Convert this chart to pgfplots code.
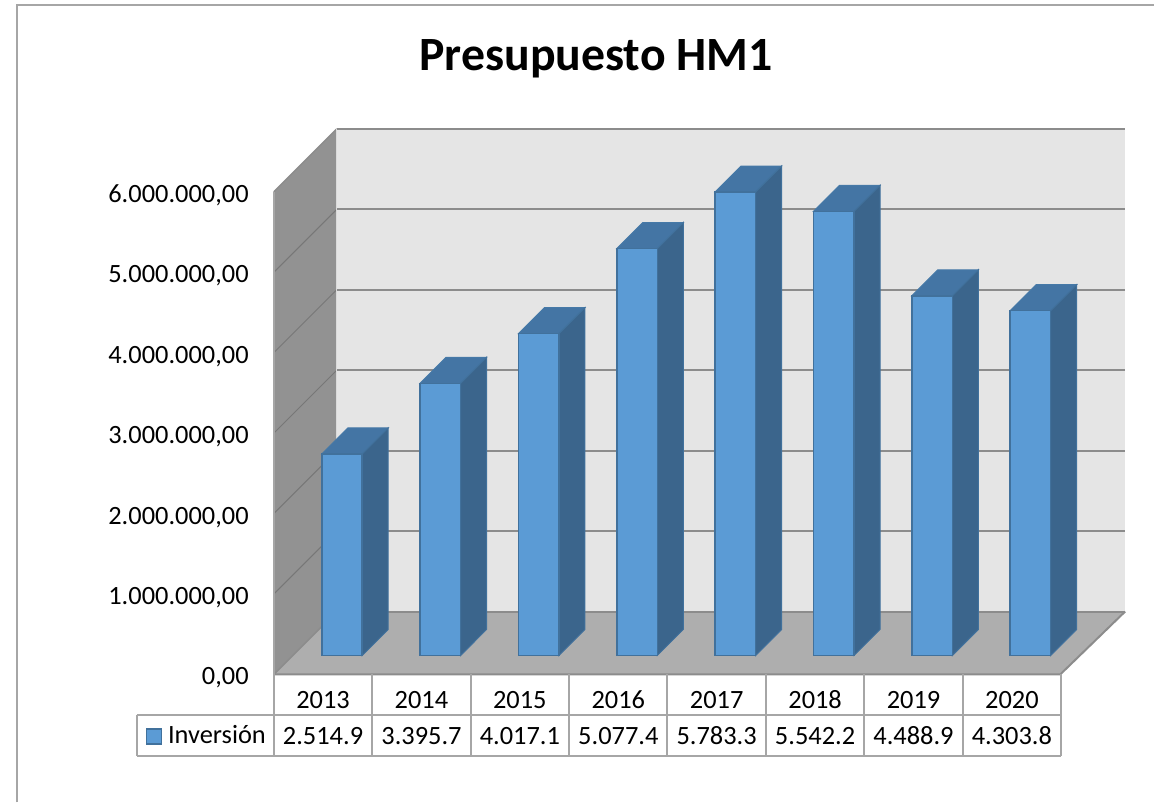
\documentclass[border=0pt]{standalone}
\usepackage{fontspec}
\setmainfont{Carlito}
\usepackage{pgfplots}
\pgfplotsset{compat=1.18}
\definecolor{front}{HTML}{5B9BD5}
\definecolor{topf}{HTML}{4475A4}
\definecolor{sidef}{HTML}{3B658C}
\definecolor{edgeb}{HTML}{41719C}
\definecolor{wallb}{HTML}{E5E5E5}
\definecolor{walll}{HTML}{929292}
\definecolor{floorc}{HTML}{AEAEAE}
\definecolor{gridc}{HTML}{8C8C8C}
\definecolor{tabc}{HTML}{A6A6A6}
\newcommand{\fsz}{\fontsize{26.4}{30}\selectfont}
\tikzset{cell/.style={font=\fsz, inner sep=0pt, text height=17pt, text depth=0pt}}
\begin{document}
\begin{tikzpicture}[x=1pt,y=1pt]
% ---- layout layer, in picture pixels
\begin{axis}[
  at={(0pt,0pt)}, anchor=south west, scale only axis, width=1155pt, height=803pt,
  xmin=0, xmax=1155, ymin=0, ymax=803, y dir=reverse, hide axis, clip=false]
\addplot[draw=none, fill=white] coordinates {(0,0)(1155,0)(1155,803)(0,803)} -- cycle;
\addplot[tabc, line width=1.8pt] coordinates {(17,803)(17,5)(1155,5)};
\addplot[draw=none, fill=wallb] coordinates {(337,129)(1126,129)(1126,612)(337,612)} -- cycle;
\addplot[draw=none, fill=walll] coordinates {(274,192)(337,129)(337,612)(274,675)} -- cycle;
\addplot[draw=none, fill=floorc] coordinates {(274,675)(337,612)(1126,612)(1061,675)} -- cycle;
% grid on the back wall
\foreach \g in {129,209.5,290,370.5,451,531.5,612}{
  \edef\temp{\noexpand\addplot[gridc, line width=2pt, forget plot] coordinates {(337,\g)(1126,\g)};}
  \temp
}
% grid on the side wall
\addplot[color=gridc!85!black, line width=1pt] coordinates {(337,209.5)(274,272.5)};
\addplot[color=gridc!85!black, line width=1pt] coordinates {(337,290)(274,353)};
\addplot[color=gridc!85!black, line width=1pt] coordinates {(337,370.5)(274,433.5)};
\addplot[color=gridc!85!black, line width=1pt] coordinates {(337,451)(274,514)};
\addplot[color=gridc!85!black, line width=1pt] coordinates {(337,531.5)(274,594.5)};
\addplot[gridc, line width=1.5pt] coordinates {(337,612)(274,675)};
\addplot[gridc, line width=1.5pt] coordinates {(274,192)(337,129)};
\addplot[gridc, line width=2pt] coordinates {(274,675)(1061,675)(1126,612)};
\addplot[tabc, line width=1.5pt] coordinates {(274,192)(274,675)};
\addplot[draw=wallb!95!black, line width=1.5pt] coordinates {(337,129)(337,612)};
% data table
\addplot[tabc, line width=2pt] coordinates {(137,716)(1062,716)};
\addplot[tabc, line width=2pt] coordinates {(137,757)(1062,757)};
\addplot[tabc, line width=2pt] coordinates {(137,716)(137,757)};
\foreach \v in {274,372.6,471.1,569.6,668,766.5,865,963.5,1062}{
  \edef\temp{\noexpand\addplot[tabc, line width=2pt, forget plot] coordinates {(\v,675)(\v,757)};}
  \temp
}
\addplot[only marks, mark=square*, mark size=7.5pt, mark options={fill=front, draw=edgeb, line width=1.2pt}] coordinates {(154,737)};
\node[cell, anchor=west] at (axis cs:168,736) {Inversión};
\node[cell] at (axis cs:323.3,736.5) {2.514.9};
\node[cell] at (axis cs:421.8,736.5) {3.395.7};
\node[cell] at (axis cs:520.3,736.5) {4.017.1};
\node[cell] at (axis cs:618.8,736.5) {5.077.4};
\node[cell] at (axis cs:717.2,736.5) {5.783.3};
\node[cell] at (axis cs:815.7,736.5) {5.542.2};
\node[cell] at (axis cs:914.2,736.5) {4.488.9};
\node[cell] at (axis cs:1012.7,736.5) {4.303.8};
\node[font=\fontsize{47.8}{54}\selectfont\bfseries, inner sep=0pt] at (axis cs:596.5,59) {Presupuesto HM1};
\end{axis}
% ---- value and category axis
\begin{axis}[
  at={(274pt,128pt)}, anchor=south west, scale only axis, width=788pt, height=483pt,
  xmin=-0.5, xmax=7.5, ymin=0, ymax=6000000,
  xtick={0,...,7}, xticklabels={2013,2014,2015,2016,2017,2018,2019,2020},
  ytick={0,1000000,2000000,3000000,4000000,5000000,6000000},
  scaled y ticks=false,
  axis line style={draw=none}, major tick length=0pt, tick style={draw=none},
  tick label style={cell},
  yticklabel style={anchor=east, xshift=-25pt, yshift=-2pt,
    /pgf/number format/.cd, fixed, fixed zerofill, precision=2,
    1000 sep={.}, dec sep={,}, assume math mode=true},
  xticklabel style={anchor=center, yshift=-25.7pt},
  ]
\addplot[draw=none] coordinates {(0,0)(7,6000000)};
\end{axis}
% ---- bars: x in picture pixels, y in thousands
\begin{axis}[
  at={(0pt,147pt)}, anchor=south west, scale only axis, width=1155pt, height=481.2pt,
  xmin=0, xmax=1155, ymin=0, ymax=6000, hide axis, clip=false]
% tops
\addplot[fill=topf, draw=edgeb!80!front, line width=1pt] coordinates {(322,2514.9)(348,2839.1)(388.5,2839.1)(362.5,2514.9)} -- cycle;
\addplot[fill=topf, draw=edgeb!80!front, line width=1pt] coordinates {(420.4,3395.7)(446.4,3719.9)(486.9,3719.9)(460.9,3395.7)} -- cycle;
\addplot[fill=topf, draw=edgeb!80!front, line width=1pt] coordinates {(518.9,4017.1)(544.9,4341.3)(585.4,4341.3)(559.4,4017.1)} -- cycle;
\addplot[fill=topf, draw=edgeb!80!front, line width=1pt] coordinates {(617.3,5077.4)(643.3,5401.6)(683.8,5401.6)(657.8,5077.4)} -- cycle;
\addplot[fill=topf, draw=edgeb!80!front, line width=1pt] coordinates {(715.7,5783.3)(741.7,6107.5)(782.2,6107.5)(756.2,5783.3)} -- cycle;
\addplot[fill=topf, draw=edgeb!80!front, line width=1pt] coordinates {(814.2,5542.2)(840.2,5866.4)(880.7,5866.4)(854.7,5542.2)} -- cycle;
\addplot[fill=topf, draw=edgeb!80!front, line width=1pt] coordinates {(912.6,4488.9)(938.6,4813.1)(979.1,4813.1)(953.1,4488.9)} -- cycle;
\addplot[fill=topf, draw=edgeb!80!front, line width=1pt] coordinates {(1011,4303.8)(1037,4628)(1077.5,4628)(1051.5,4303.8)} -- cycle;
% sides
\addplot[fill=sidef, draw=edgeb, line width=1pt] coordinates {(362.5,0)(362.5,2514.9)(388.5,2839.1)(388.5,324.2)} -- cycle;
\addplot[fill=sidef, draw=edgeb, line width=1pt] coordinates {(460.9,0)(460.9,3395.7)(486.9,3719.9)(486.9,324.2)} -- cycle;
\addplot[fill=sidef, draw=edgeb, line width=1pt] coordinates {(559.4,0)(559.4,4017.1)(585.4,4341.3)(585.4,324.2)} -- cycle;
\addplot[fill=sidef, draw=edgeb, line width=1pt] coordinates {(657.8,0)(657.8,5077.4)(683.8,5401.6)(683.8,324.2)} -- cycle;
\addplot[fill=sidef, draw=edgeb, line width=1pt] coordinates {(756.2,0)(756.2,5783.3)(782.2,6107.5)(782.2,324.2)} -- cycle;
\addplot[fill=sidef, draw=edgeb, line width=1pt] coordinates {(854.7,0)(854.7,5542.2)(880.7,5866.4)(880.7,324.2)} -- cycle;
\addplot[fill=sidef, draw=edgeb, line width=1pt] coordinates {(953.1,0)(953.1,4488.9)(979.1,4813.1)(979.1,324.2)} -- cycle;
\addplot[fill=sidef, draw=edgeb, line width=1pt] coordinates {(1051.5,0)(1051.5,4303.8)(1077.5,4628)(1077.5,324.2)} -- cycle;
\addplot[ybar, bar width=40.5pt, bar shift=0pt, draw=edgeb, line width=1.5pt, fill=front]
  coordinates {(342.25,2514.9)(440.65,3395.7)(539.15,4017.1)(637.55,5077.4)(735.95,5783.3)(834.45,5542.2)(932.85,4488.9)(1031.25,4303.8)};
\end{axis}
\end{tikzpicture}
\end{document}
